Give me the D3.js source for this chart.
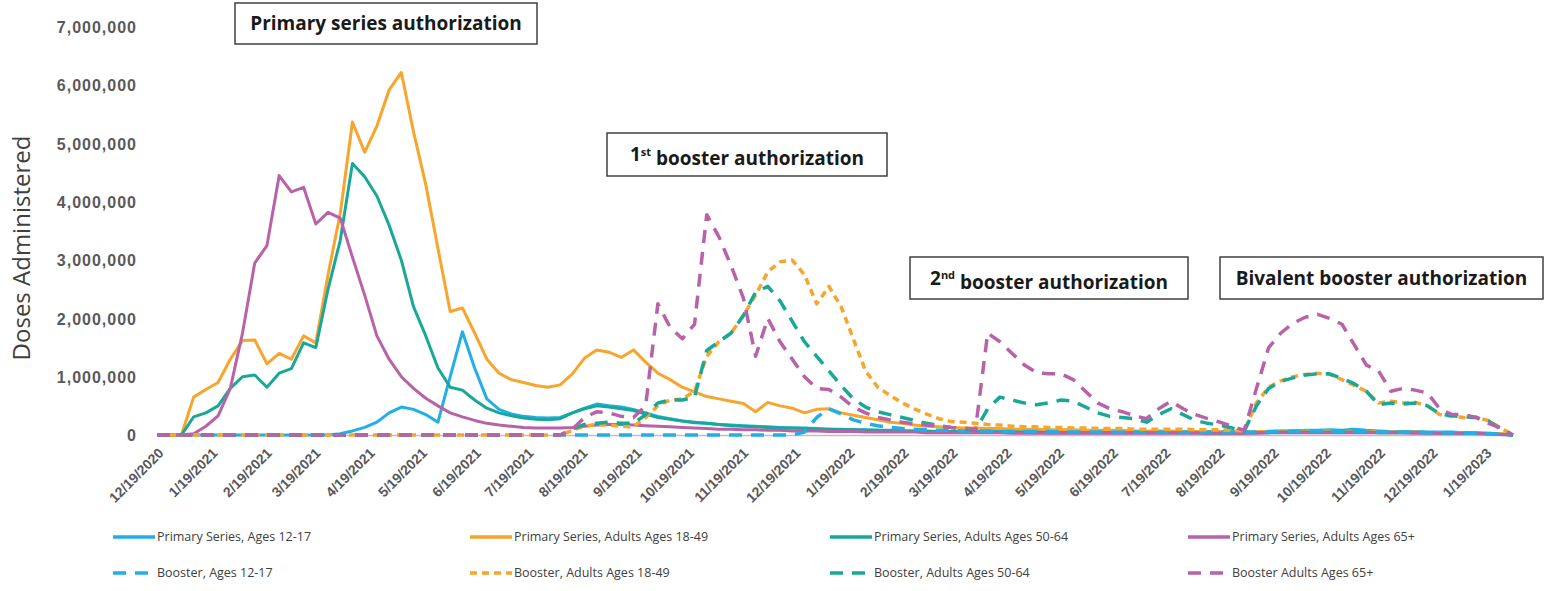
<!DOCTYPE html>
<html>
<head>
<meta charset="utf-8">
<script src="https://cdn.jsdelivr.net/npm/d3@7"></script>
<style>
  body { margin: 0; background: #fff; }
  svg { display: block; font-family: "Open Sans", sans-serif; }
  .yaxis text { fill: #595959; font-size: 16px; font-weight: 600; letter-spacing: 1px; }
  .xaxis text { fill: #595959; font-size: 14px; font-weight: 600; }
  .legend text { fill: #404040; font-size: 12.5px; }
  .note text { fill: #1a1a1a; font-size: 19px; font-weight: 700; }
</style>
</head>
<body>
<svg id="chart" width="1562" height="591"></svg>
<script>
// weekly data points, first week 12/19/2020 (values in millions of doses)
const startDate = new Date(2020, 11, 19);
const weeks = d3.range(112).map(i => d3.timeDay.offset(startDate, i * 7));
const xTickDates = d3.range(26).map(i => new Date(2020, 11 + i, 19));
const yTicks = [0, 1e6, 2e6, 3e6, 4e6, 5e6, 6e6, 7e6];

const primary1217 = [
  0,0,0,0,0,0,0,0,0,0,
  0,0,0,0,0,0.02,0.07,0.13,0.22,0.38,
  0.48,0.44,0.35,0.22,1.0,1.77,1.15,0.62,0.44,0.36,
  0.32,0.3,0.29,0.3,0.38,0.46,0.53,0.5,0.48,0.44,
  0.38,0.32,0.28,0.24,0.21,0.2,0.18,0.17,0.16,0.15,
  0.14,0.13,0.12,0.12,0.11,0.1,0.1,0.09,0.09,0.08,
  0.08,0.07,0.07,0.07,0.06,0.06,0.06,0.06,0.06,0.06,
  0.05,0.05,0.05,0.05,0.05,0.05,0.05,0.05,0.05,0.05,
  0.05,0.05,0.05,0.05,0.05,0.05,0.04,0.04,0.04,0.04,
  0.05,0.06,0.07,0.07,0.08,0.08,0.09,0.08,0.1,0.08,
  0.07,0.06,0.06,0.06,0.05,0.05,0.05,0.04,0.04,0.03,
  0.02,0];
const primary1849 = [
  0,0,0,0.65,0.78,0.9,1.3,1.62,1.63,1.22,
  1.4,1.3,1.7,1.58,2.75,3.8,5.37,4.85,5.3,5.92,
  6.22,5.2,4.3,3.2,2.12,2.18,1.75,1.3,1.06,0.95,
  0.9,0.85,0.82,0.86,1.05,1.32,1.46,1.42,1.33,1.46,
  1.25,1.06,0.95,0.82,0.74,0.66,0.62,0.58,0.54,0.4,
  0.56,0.5,0.46,0.38,0.44,0.45,0.38,0.34,0.3,0.26,
  0.22,0.2,0.17,0.15,0.14,0.13,0.12,0.12,0.11,0.11,
  0.1,0.1,0.1,0.09,0.09,0.09,0.08,0.08,0.08,0.08,
  0.07,0.07,0.07,0.07,0.06,0.06,0.06,0.06,0.06,0.05,
  0.06,0.06,0.07,0.07,0.07,0.07,0.07,0.06,0.06,0.06,
  0.05,0.05,0.05,0.05,0.04,0.04,0.04,0.04,0.03,0.03,
  0.02,0];
const primary5064 = [
  0,0,0,0.31,0.38,0.5,0.8,1.0,1.03,0.82,
  1.06,1.14,1.58,1.5,2.5,3.34,4.66,4.43,4.1,3.6,
  3.0,2.2,1.7,1.15,0.82,0.77,0.6,0.46,0.38,0.33,
  0.29,0.27,0.26,0.28,0.38,0.45,0.5,0.48,0.45,0.42,
  0.36,0.3,0.27,0.24,0.22,0.2,0.18,0.16,0.15,0.14,
  0.13,0.12,0.12,0.11,0.1,0.1,0.09,0.09,0.08,0.08,
  0.07,0.07,0.07,0.06,0.06,0.06,0.05,0.05,0.05,0.05,
  0.05,0.05,0.05,0.04,0.04,0.04,0.04,0.04,0.04,0.04,
  0.04,0.04,0.04,0.04,0.04,0.04,0.03,0.03,0.03,0.03,
  0.04,0.04,0.05,0.05,0.05,0.05,0.05,0.05,0.05,0.05,
  0.04,0.04,0.04,0.04,0.04,0.03,0.03,0.03,0.03,0.02,
  0.01,0];
const primary65 = [
  0,0,0,0.02,0.15,0.33,0.8,1.75,2.95,3.25,
  4.45,4.17,4.25,3.62,3.82,3.72,3.05,2.4,1.7,1.3,
  1.0,0.8,0.63,0.5,0.38,0.31,0.25,0.2,0.17,0.15,
  0.13,0.12,0.12,0.12,0.13,0.15,0.17,0.18,0.18,0.17,
  0.16,0.15,0.14,0.13,0.12,0.11,0.1,0.1,0.09,0.09,
  0.08,0.08,0.07,0.07,0.07,0.06,0.06,0.06,0.05,0.05,
  0.05,0.05,0.05,0.04,0.04,0.04,0.04,0.04,0.04,0.04,
  0.03,0.03,0.03,0.03,0.03,0.03,0.03,0.03,0.03,0.03,
  0.03,0.03,0.03,0.03,0.03,0.03,0.03,0.03,0.03,0.03,
  0.03,0.04,0.04,0.04,0.04,0.04,0.04,0.04,0.04,0.04,
  0.04,0.04,0.04,0.03,0.03,0.03,0.03,0.03,0.02,0.02,
  0.01,0];
const booster1217 = [
  0,0,0,0,0,0,0,0,0,0,
  0,0,0,0,0,0,0,0,0,0,
  0,0,0,0,0,0,0,0,0,0,
  0,0,0,0,0,0,0,0,0,0,
  0,0,0,0,0,0,0,0,0,0,
  0,0,0,0.05,0.3,0.45,0.36,0.26,0.2,0.16,
  0.13,0.11,0.1,0.09,0.08,0.08,0.07,0.07,0.07,0.06,
  0.06,0.06,0.06,0.06,0.05,0.05,0.05,0.05,0.05,0.05,
  0.05,0.05,0.05,0.05,0.05,0.05,0.05,0.05,0.05,0.05,
  0.05,0.06,0.06,0.07,0.07,0.07,0.07,0.06,0.06,0.06,
  0.05,0.05,0.05,0.05,0.04,0.04,0.04,0.03,0.03,0.02,
  0.01,0];
const booster1849 = [
  0,0,0,0,0,0,0,0,0,0,
  0,0,0,0,0,0,0,0,0,0,
  0,0,0,0,0,0,0,0,0,0,
  0,0,0,0,0.08,0.15,0.18,0.17,0.15,0.14,
  0.3,0.5,0.6,0.62,0.75,1.35,1.6,1.75,2.05,2.4,
  2.8,2.97,3.0,2.75,2.25,2.55,2.2,1.65,1.1,0.82,
  0.68,0.55,0.45,0.36,0.28,0.23,0.22,0.2,0.18,0.17,
  0.15,0.14,0.14,0.13,0.13,0.12,0.12,0.11,0.11,0.11,
  0.1,0.1,0.1,0.1,0.1,0.09,0.09,0.09,0.08,0.07,
  0.55,0.82,0.93,1.0,1.04,1.06,1.04,0.95,0.85,0.75,
  0.55,0.58,0.55,0.56,0.5,0.35,0.32,0.3,0.3,0.25,
  0.12,0];
const booster5064 = [
  0,0,0,0,0,0,0,0,0,0,
  0,0,0,0,0,0,0,0,0,0,
  0,0,0,0,0,0,0,0,0,0,
  0,0,0,0,0.1,0.18,0.2,0.22,0.2,0.2,
  0.35,0.55,0.6,0.6,0.65,1.45,1.6,1.75,2.05,2.45,
  2.55,2.3,1.95,1.6,1.35,1.1,0.85,0.62,0.48,0.4,
  0.35,0.3,0.25,0.2,0.16,0.13,0.1,0.08,0.45,0.65,
  0.6,0.55,0.52,0.55,0.6,0.58,0.48,0.38,0.32,0.3,
  0.28,0.22,0.35,0.45,0.35,0.25,0.2,0.17,0.12,0.07,
  0.5,0.8,0.92,0.98,1.03,1.05,1.05,0.97,0.88,0.75,
  0.52,0.55,0.53,0.55,0.5,0.36,0.33,0.31,0.3,0.24,
  0.1,0];
const booster65 = [
  0,0,0,0,0,0,0,0,0,0,
  0,0,0,0,0,0,0,0,0,0,
  0,0,0,0,0,0,0,0,0,0,
  0,0,0,0,0.1,0.3,0.4,0.38,0.32,0.3,
  0.5,2.25,1.85,1.65,1.9,3.78,3.4,2.9,2.35,1.35,
  2.0,1.6,1.3,1.0,0.8,0.78,0.65,0.48,0.38,0.3,
  0.26,0.22,0.19,0.17,0.15,0.13,0.12,0.1,1.75,1.6,
  1.4,1.2,1.07,1.05,1.05,0.95,0.75,0.55,0.45,0.4,
  0.33,0.28,0.45,0.58,0.45,0.35,0.28,0.22,0.15,0.08,
  0.8,1.5,1.75,1.92,2.02,2.07,2.0,1.9,1.55,1.2,
  1.1,0.75,0.8,0.77,0.72,0.45,0.35,0.35,0.3,0.2,
  0.12,0];

const seriesNames = [
  "Primary Series, Ages 12-17", "Primary Series, Adults Ages 18-49",
  "Primary Series, Adults Ages 50-64", "Primary Series,  Adults Ages 65+",
  "Booster, Ages 12-17", "Booster, Adults Ages 18-49",
  "Booster, Adults Ages 50-64", "Booster Adults Ages 65+"
];
const seriesValues = [primary1217, primary1849, primary5064, primary65,
                      booster1217, booster1849, booster5064, booster65];
const colors = ["#22aee6", "#f7a52c", "#19a898", "#b862a8"];
const UNIT = 1e6;

const svg = d3.select("#chart");

const x = d3.scaleTime().domain([startDate, weeks[weeks.length - 1]]).range([157, 1513]);
const y = d3.scaleLinear().domain([0, 7e6]).range([435, 27]);

// y axis labels only
const yAxis = svg.append("g").attr("class", "yaxis")
  .attr("transform", "translate(155,0)")
  .call(d3.axisLeft(y).tickValues(yTicks).tickFormat(d3.format(",")).tickSize(0).tickPadding(18));
yAxis.select(".domain").remove();
yAxis.selectAll("text").attr("dy", "0.35em");

svg.append("text")
  .attr("transform", "translate(30,248) rotate(-90)")
  .attr("text-anchor", "middle")
  .style("font-size", "24px")
  .style("fill", "#404040")
  .text("Doses Administered");

// x axis
const xAxis = svg.append("g").attr("class", "xaxis")
  .attr("transform", "translate(0,435)")
  .call(d3.axisBottom(x).tickValues(xTickDates).tickFormat(d3.timeFormat("%-m/%-d/%Y")).tickSize(0));
xAxis.select(".domain").attr("stroke", "#bfbfbf").attr("stroke-width", 1.5);
xAxis.selectAll("text")
  .attr("x", 0).attr("y", 0).attr("dy", 0)
  .attr("text-anchor", "end")
  .attr("transform", "translate(7,19) rotate(-45)");

// lines
const line = d3.line()
  .x((d, i) => x(weeks[i]))
  .y(d => y(d * UNIT));

const dashFor = i => i < 4 ? null : (i === 5 ? "7,5" : "13,9");

svg.append("g").selectAll("path")
  .data(seriesValues)
  .enter()
  .append("path")
  .attr("d", line)
  .attr("fill", "none")
  .attr("stroke", (d, i) => colors[i % 4])
  .attr("stroke-width", (d, i) => i < 4 ? 3 : 3.5)
  .attr("stroke-dasharray", (d, i) => dashFor(i))
  .attr("stroke-linejoin", "round");

// legend
const legendX = [113, 470, 830, 1188];
const legendY = [537, 573];
const legend = svg.append("g").attr("class", "legend");
seriesNames.forEach((name, i) => {
  const lx = legendX[i % 4], ly = legendY[i < 4 ? 0 : 1];
  legend.append("line")
    .attr("x1", lx).attr("x2", lx + 42).attr("y1", ly).attr("y2", ly)
    .attr("stroke", colors[i % 4])
    .attr("stroke-width", 3.5)
    .attr("stroke-dasharray", dashFor(i));
  legend.append("text")
    .attr("x", lx + 44).attr("y", ly).attr("dy", "0.35em")
    .text(name);
});

// annotation boxes
const notes = [
  {pre: "Primary series authorization", sup: "", post: "", x0: 235, y0: 3, x1: 537, y1: 44},
  {pre: "1", sup: "st", post: " booster authorization", x0: 607, y0: 133, x1: 887, y1: 176},
  {pre: "2", sup: "nd", post: " booster authorization", x0: 910, y0: 257, x1: 1188, y1: 299},
  {pre: "Bivalent booster authorization", sup: "", post: "", x0: 1220, y0: 257, x1: 1543, y1: 299}
];
const noteG = svg.append("g").attr("class", "note");
notes.forEach(n => {
  noteG.append("rect")
    .attr("x", n.x0).attr("y", n.y0)
    .attr("width", n.x1 - n.x0).attr("height", n.y1 - n.y0)
    .attr("fill", "#fff").attr("stroke", "#404040").attr("stroke-width", 1.5);
  const t = noteG.append("text")
    .attr("x", (n.x0 + n.x1) / 2).attr("y", (n.y0 + n.y1) / 2)
    .attr("dy", "0.35em").attr("text-anchor", "middle");
  t.append("tspan").text(n.pre);
  if (n.sup) {
    t.append("tspan").attr("dy", "-0.5em").style("font-size", "11px").text(n.sup);
    t.append("tspan").attr("dy", "0.5em").text(n.post);
  }
});
</script>
</body>
</html>
